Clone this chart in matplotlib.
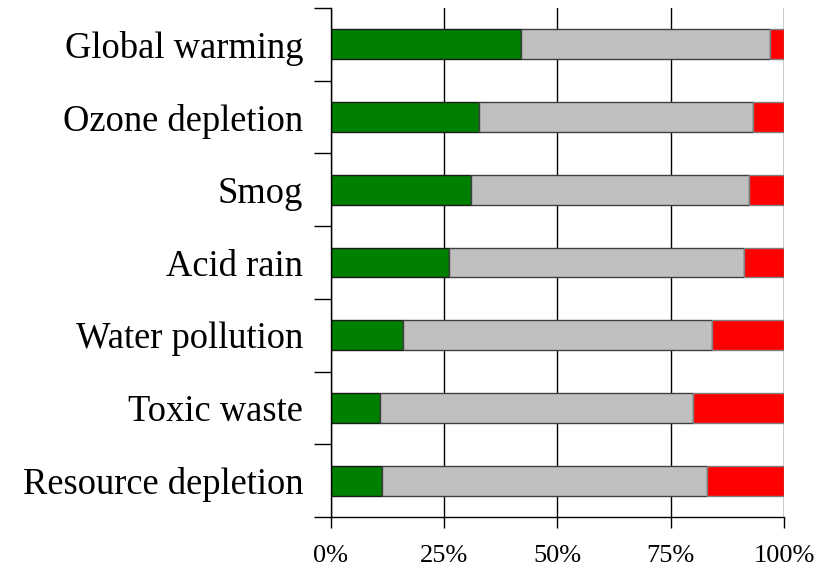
import numpy as np
import matplotlib
matplotlib.use("Agg")
import matplotlib.pyplot as plt
from matplotlib.ticker import FixedLocator, PercentFormatter

# data (percent shares)
issues = ["Global warming", "Ozone depletion", "Smog", "Acid rain",
          "Water pollution", "Toxic waste", "Resource depletion"]
share_green = [41.9, 32.7, 31.0, 26.0, 16.0, 10.9, 11.2]
share_grey = [55.1, 60.5, 61.2, 65.2, 68.1, 69.0, 71.8]
share_red = [3.0, 6.8, 7.8, 8.8, 15.9, 20.1, 17.0]

plt.rcParams["font.family"] = ["Liberation Serif", "DejaVu Serif"]

fig = plt.figure(figsize=(8.31, 5.72), dpi=100)
ax = fig.add_axes([0.3983, 0.0962, 0.5451, 0.8898])

y = np.arange(len(issues))
green = np.array(share_green)
grey = np.array(share_grey)
red = np.array(share_red)
h = 0.41

ax.barh(y, green, height=h, color="#008000", edgecolor="#1a1a1a", linewidth=1, zorder=2)
ax.barh(y, grey, left=green, height=h, color="#c0c0c0", edgecolor="#404040", linewidth=1, zorder=2)
ax.barh(y, red, left=green + grey, height=h, color="#ff0000", edgecolor="#808080", linewidth=1, zorder=2)

ax.set_xlim(0, 100)
ax.set_ylim(len(issues) - 0.5, -0.5)

ax.set_xticks([0, 25, 50, 75, 100])
ax.xaxis.set_major_formatter(PercentFormatter(decimals=0))
ax.tick_params(axis="x", direction="out", length=8, width=1, pad=12, labelsize=19, color="black")
ax.grid(axis="x", color="black", linewidth=1, zorder=0)

ax.set_yticks(y)
ax.set_yticklabels(issues)
ax.yaxis.set_minor_locator(FixedLocator(np.arange(-0.5, len(issues), 1.0)))
ax.tick_params(axis="y", which="major", length=0, pad=20, labelsize=26.3)
ax.tick_params(axis="y", which="minor", direction="out", length=12, width=1, color="black")

for s in ["top", "right"]:
    ax.spines[s].set_visible(False)
for s in ["left", "bottom"]:
    ax.spines[s].set_linewidth(1)
    ax.spines[s].set_color("black")

fig.savefig("out.png", dpi=100)
